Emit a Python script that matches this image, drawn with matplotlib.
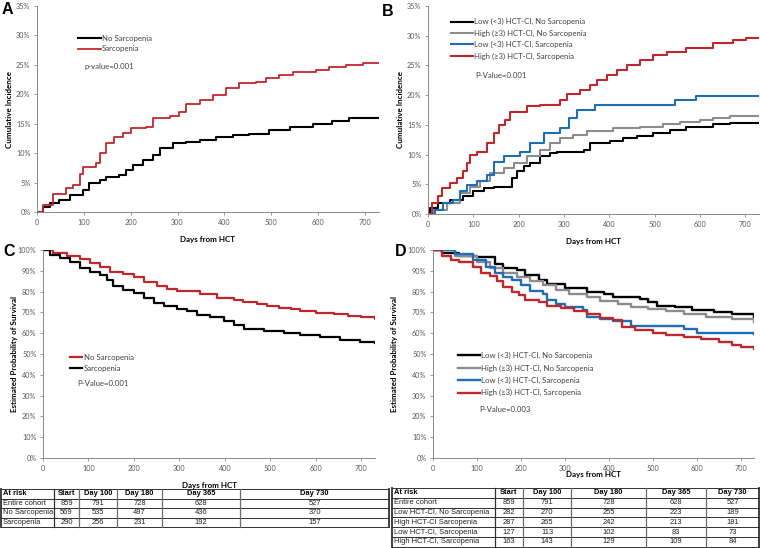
import matplotlib
matplotlib.use('Agg')
import matplotlib.pyplot as plt
from matplotlib.ticker import PercentFormatter

# ---------------- data ----------------
day_ticks = [0, 100, 200, 300, 400, 500, 600, 700]

# A: cumulative incidence (%)
a_nosarc_days = [0, 13, 27, 48, 70, 98, 112, 134, 148, 176, 190, 205, 226, 247, 262,
                 290, 318, 347, 382, 418, 453, 496, 539, 590, 630, 665, 730]
a_nosarc_ci = [0, 0.9, 1.5, 2.0, 2.9, 3.7, 4.9, 5.4, 6.0, 6.3, 7.1, 8.0, 8.8, 9.7, 10.8,
               11.7, 11.9, 12.2, 12.8, 13.1, 13.3, 14.0, 14.5, 15.0, 15.5, 16.0, 16.0]
a_sarc_days = [0, 13, 34, 62, 77, 91, 98, 125, 134, 148, 165, 183, 201, 233, 247, 283,
               304, 318, 347, 375, 404, 432, 468, 489, 517, 546, 596, 624, 660, 695, 730]
a_sarc_ci = [0, 1.2, 3.1, 4.0, 4.6, 6.5, 7.7, 8.3, 10.0, 11.7, 12.8, 13.4, 14.2, 14.5, 15.9,
             16.3, 17.0, 18.4, 19.0, 19.9, 21.0, 21.9, 22.1, 22.7, 23.3, 23.8, 24.1, 24.7,
             25.0, 25.4, 25.4]

# B: cumulative incidence (%) by HCT-CI and sarcopenia
b_low_nosarc_days = [0, 5, 23, 49, 78, 100, 123, 145, 185, 196, 211, 225, 247, 269, 284,
                     343, 357, 401, 431, 460, 497, 533, 570, 629, 665, 730]
b_low_nosarc_ci = [0, 1.0, 1.8, 2.4, 3.0, 3.8, 4.4, 4.6, 6.0, 7.2, 8.0, 8.6, 9.7, 10.2, 10.5,
                   10.8, 11.9, 12.2, 12.8, 13.1, 13.6, 14.2, 14.7, 15.2, 15.3, 15.3]
b_high_nosarc_days = [0, 12, 42, 71, 93, 115, 137, 167, 189, 218, 247, 269, 291, 320, 350,
                      409, 467, 519, 555, 599, 629, 665, 730]
b_high_nosarc_ci = [0, 0.7, 1.8, 3.5, 4.6, 5.5, 6.9, 7.7, 8.6, 9.7, 10.8, 11.9, 12.8, 13.3,
                    13.9, 14.4, 14.7, 15.1, 15.4, 15.8, 16.1, 16.5, 16.5]
b_low_sarc_days = [0, 16, 34, 56, 71, 86, 108, 130, 145, 167, 203, 225, 255, 291, 310, 328,
                   368, 545, 592, 730]
b_low_sarc_ci = [0, 0.7, 1.8, 2.4, 3.8, 4.9, 5.5, 6.6, 8.8, 9.7, 10.5, 11.9, 13.6, 14.4,
                 16.1, 17.5, 18.4, 19.2, 19.9, 19.9]
b_high_sarc_days = [0, 9, 23, 31, 49, 64, 78, 86, 93, 108, 130, 145, 156, 170, 181, 218,
                    247, 291, 306, 335, 357, 372, 394, 416, 438, 467, 497, 526, 570, 629,
                    673, 702, 730]
b_high_sarc_ci = [0, 1.8, 3.0, 4.4, 5.2, 6.0, 7.2, 8.6, 10.0, 10.5, 11.9, 13.6, 15.0, 15.8,
                  17.2, 18.1, 18.4, 19.2, 20.2, 20.9, 21.7, 22.6, 23.4, 24.2, 25.1, 25.9,
                  26.8, 27.3, 27.9, 28.7, 29.3, 29.6, 29.6]

# C: estimated probability of survival (%)
c_nosarc_days = [0, 23, 53, 82, 104, 126, 148, 176, 199, 221, 251, 273, 295, 346, 383,
                 419, 440, 470, 493, 520, 545, 566, 600, 639, 670, 700, 730]
c_nosarc_surv = [100, 98.4, 97.1, 95.5, 93.9, 91.6, 89.5, 88.4, 86.8, 84.7, 82.6, 81.4,
                 80.3, 78.7, 77.1, 75.8, 75.0, 74.0, 72.9, 72.0, 71.4, 70.6, 69.8, 69.0,
                 68.3, 67.7, 66.7]
c_sarc_days = [0, 16, 38, 60, 82, 104, 126, 141, 155, 176, 199, 221, 243, 265, 295, 317,
               339, 368, 397, 419, 441, 485, 529, 566, 610, 654, 698, 730]
c_sarc_surv = [100, 97.6, 96.0, 94.3, 91.4, 89.5, 87.9, 85.5, 82.6, 80.6, 79.3, 76.9, 74.5,
               72.9, 71.7, 70.9, 68.8, 67.7, 66.1, 64.1, 62.0, 61.2, 59.9, 59.3, 58.0, 56.7,
               55.7, 55.1]

# D: estimated probability of survival (%) by HCT-CI and sarcopenia
d_low_nosarc_days = [0, 20, 60, 100, 140, 160, 190, 210, 240, 260, 300, 350, 390, 410, 470,
                     490, 510, 550, 590, 640, 680, 730]
d_low_nosarc_surv = [100, 98.5, 97.0, 96.5, 93.5, 91.5, 90.5, 88.0, 85.5, 83.5, 81.5, 80.0,
                     79.0, 77.5, 76.5, 75.0, 73.0, 72.5, 71.0, 70.0, 69.0, 68.0]
d_high_nosarc_days = [0, 50, 100, 130, 160, 190, 220, 250, 280, 310, 350, 380, 420, 450,
                      490, 530, 570, 620, 680, 730]
d_high_nosarc_surv = [100, 97.0, 94.0, 91.5, 89.0, 87.0, 85.0, 83.0, 81.0, 79.0, 77.5, 75.5,
                      74.0, 72.5, 71.5, 70.5, 69.0, 68.0, 67.0, 65.5]
d_low_sarc_days = [0, 50, 90, 120, 140, 160, 180, 200, 220, 250, 260, 280, 300, 340, 350,
                   380, 410, 450, 560, 570, 600, 730]
d_low_sarc_surv = [100, 98.0, 95.0, 92.0, 89.0, 87.0, 85.5, 83.0, 80.5, 79.0, 76.0, 74.0,
                   72.5, 71.0, 68.0, 67.0, 66.0, 63.5, 63.5, 62.0, 60.0, 59.5]
d_high_sarc_days = [0, 20, 40, 60, 90, 110, 130, 145, 160, 180, 195, 210, 240, 260, 290,
                    320, 350, 380, 410, 430, 460, 500, 530, 570, 610, 650, 680, 700, 730]
d_high_sarc_surv = [100, 97.0, 95.0, 94.0, 92.0, 89.0, 87.5, 85.0, 82.0, 80.0, 78.5, 76.0,
                    75.0, 73.0, 72.0, 70.5, 69.0, 67.5, 66.5, 63.0, 61.5, 60.0, 59.0, 58.0,
                    57.0, 56.0, 54.5, 53.5, 52.5]

# numbers at risk
risk_cols = ['At risk', 'Start', 'Day 100', 'Day 180', 'Day 365', 'Day 730']
left_groups = ['Entire cohort', 'No Sarcopenia', 'Sarcopenia']
left_counts = [[859, 791, 728, 628, 527],
               [569, 535, 497, 436, 370],
               [290, 256, 231, 192, 157]]
right_groups = ['Entire cohort', 'Low HCT-CI, No Sarcopenia', 'High HCT-CI Sarcopenia',
                'Low HCT-CI, Sarcopenia', 'High HCT-CI, Sarcopenia']
right_counts = [[859, 791, 728, 628, 527],
                [282, 270, 255, 223, 189],
                [287, 265, 242, 213, 181],
                [127, 113, 102, 83, 73],
                [163, 143, 129, 109, 84]]

# ---------------- styling ----------------
RED = '#C0272D'
BLUE = '#1F6DB5'
GRAY = '#8C8C8C'
BLACK = '#000000'
AX_FONT = 'Lato'
TAB_FONT = 'Liberation Sans'

W, H = 760, 548
fig = plt.figure(figsize=(W / 100, H / 100), dpi=100)


def axes_px(l, r, top, bot):
    return fig.add_axes([l / W, 1 - bot / H, (r - l) / W, (bot - top) / H])


def style_axes(ax, ymax, ystep, ylabel, xlab_px, ylab_px):
    ax.set_xlim(0, 730)
    ax.set_ylim(0, ymax)
    ax.set_xticks(day_ticks)
    ax.set_yticks(range(0, ymax + 1, ystep))
    ax.yaxis.set_major_formatter(PercentFormatter(decimals=0))
    for s in ['top', 'right']:
        ax.spines[s].set_visible(False)
    for s in ['left', 'bottom']:
        ax.spines[s].set_color('#8a8a8a')
        ax.spines[s].set_linewidth(0.7)
    ax.tick_params(labelsize=5.2, length=2.2, width=0.6, color='#8a8a8a',
                   labelcolor='#595959', pad=2.5)
    for lab in ax.get_xticklabels() + ax.get_yticklabels():
        lab.set_family(AX_FONT)
    bb = ax.get_position()
    ax.set_xlabel('Days from HCT', fontsize=5.8, fontweight='bold', family=AX_FONT)
    ax.set_ylabel(ylabel, fontsize=5.8, fontweight='bold', family=AX_FONT)
    ax.xaxis.set_label_coords(0.5, -xlab_px / (bb.height * H))
    ax.yaxis.set_label_coords(-ylab_px / (bb.width * W), 0.5)


def add_legend(ax, x0, top, hlen, spacing):
    leg = ax.legend(loc='upper left', bbox_to_anchor=(x0, top), frameon=False,
                    prop={'family': AX_FONT, 'size': 5.6}, handlelength=hlen,
                    handletextpad=0.15, labelspacing=spacing, borderpad=0,
                    borderaxespad=0)
    for t in leg.get_texts():
        t.set_color('#404040')


# ---- A ----
axA = axes_px(37, 379, 6, 212)
axA.step(a_nosarc_days, a_nosarc_ci, where='post', color=BLACK, lw=1.5, label='No Sarcopenia')
axA.step(a_sarc_days, a_sarc_ci, where='post', color=RED, lw=1.3, label='Sarcopenia')
style_axes(axA, 35, 5, 'Cumulative Incidence', 24, 24)
add_legend(axA, 0.12, 0.86, 2.9, 0.45)
axA.text(0.14, 0.704, 'p-value=0.001', transform=axA.transAxes, fontsize=5.6,
         family=AX_FONT, color='#404040', va='center')

# ---- B ----
axB = axes_px(428, 759, 6, 214)
axB.step(b_low_nosarc_days, b_low_nosarc_ci, where='post', color=BLACK, lw=1.5,
         label='Low (<3) HCT-CI, No Sarcopenia')
axB.step(b_high_nosarc_days, b_high_nosarc_ci, where='post', color=GRAY, lw=1.5,
         label='High (≥3) HCT-CI, No Sarcopenia')
axB.step(b_low_sarc_days, b_low_sarc_ci, where='post', color=BLUE, lw=1.5,
         label='Low (<3) HCT-CI, Sarcopenia')
axB.step(b_high_sarc_days, b_high_sarc_ci, where='post', color=RED, lw=1.5,
         label='High (≥3) HCT-CI, Sarcopenia')
style_axes(axB, 35, 5, 'Cumulative Incidence', 24, 24)
add_legend(axB, 0.069, 0.941, 2.8, 0.55)
axB.text(0.142, 0.668, 'P-Value=0.001', transform=axB.transAxes, fontsize=5.6,
         family=AX_FONT, color='#404040', va='center')

# ---- C ----
axC = axes_px(43, 375, 250, 458)
axC.step(c_nosarc_days, c_nosarc_surv, where='post', color=RED, lw=1.6, label='No Sarcopenia')
axC.step(c_sarc_days, c_sarc_surv, where='post', color=BLACK, lw=1.6, label='Sarcopenia')
style_axes(axC, 100, 10, 'Estimated Probability of Survival', 24, 25)
add_legend(axC, 0.081, 0.499, 1.6, 0.45)
axC.text(0.102, 0.356, 'P-Value=0.001', transform=axC.transAxes, fontsize=5.6,
         family=AX_FONT, color='#404040', va='center')

# ---- D ----
axD = axes_px(433, 754, 250, 458)
axD.step(d_low_nosarc_days, d_low_nosarc_surv, where='post', color=BLACK, lw=1.7,
         label='Low (<3) HCT-CI, No Sarcopenia')
axD.step(d_high_nosarc_days, d_high_nosarc_surv, where='post', color=GRAY, lw=1.7,
         label='High (≥3) HCT-CI, No Sarcopenia')
axD.step(d_low_sarc_days, d_low_sarc_surv, where='post', color=BLUE, lw=1.7,
         label='Low (<3) HCT-CI, Sarcopenia')
axD.step(d_high_sarc_days, d_high_sarc_surv, where='post', color=RED, lw=1.7,
         label='High (≥3) HCT-CI, Sarcopenia')
style_axes(axD, 100, 10, 'Estimated Probability of Survival', 13, 35)
add_legend(axD, 0.078, 0.51, 2.8, 0.68)
axD.text(0.143, 0.231, 'P-Value=0.003', transform=axD.transAxes, fontsize=5.6,
         family=AX_FONT, color='#404040', va='center')

# ---------------- overlay: panel letters and at-risk tables ----------------
ov = fig.add_axes([0, 0, 1, 1], zorder=-1)
ov.set_xlim(0, W)
ov.set_ylim(H, 0)
ov.axis('off')

for letter, (x, y) in zip('ABCD', [(7, 9), (388, 11), (9, 252), (401, 252)]):
    ov.text(x, y, letter, fontsize=11.5, fontweight='bold', family=TAB_FONT,
            ha='center', va='center')


def draw_table(x_edges, y_top, row_h, groups, counts):
    n = len(groups) + 1
    y_bot = y_top + n * row_h
    for i in range(n + 1):
        ov.plot([x_edges[0], x_edges[-1]], [y_top + i * row_h] * 2, color='#303030', lw=0.7)
    for j, x in enumerate(x_edges):
        lw = 1.3 if j in (0, len(x_edges) - 1) else 0.9
        col = '#303030' if j in (0, 1, len(x_edges) - 1) else '#6a6a6a'
        ov.plot([x, x], [y_top, y_bot], color=col, lw=lw)
    # header
    yc = y_top + row_h / 2
    ov.text(x_edges[0] + 2, yc, risk_cols[0], fontsize=5.4, fontweight='bold',
            family=TAB_FONT, va='center', ha='left')
    for j, name in enumerate(risk_cols[1:]):
        ov.text((x_edges[j + 1] + x_edges[j + 2]) / 2, yc, name, fontsize=5.4,
                fontweight='bold', family=TAB_FONT, va='center', ha='center')
    for i, (g, row) in enumerate(zip(groups, counts)):
        yc = y_top + (i + 1.5) * row_h
        ov.text(x_edges[0] + 2, yc, g, fontsize=5.4, family=TAB_FONT, va='center',
                ha='left', color='#202020')
        for j, v in enumerate(row):
            ov.text((x_edges[j + 1] + x_edges[j + 2]) / 2, yc, str(v), fontsize=5.4,
                    family=TAB_FONT, va='center', ha='center', color='#202020')


draw_table([1, 54, 79, 117, 162, 240, 389], 489, 9.5, left_groups, left_counts)
draw_table([392, 495, 523, 571, 646, 706, 759], 488, 9.8, right_groups, right_counts)

fig.savefig('out.png', dpi=100)
